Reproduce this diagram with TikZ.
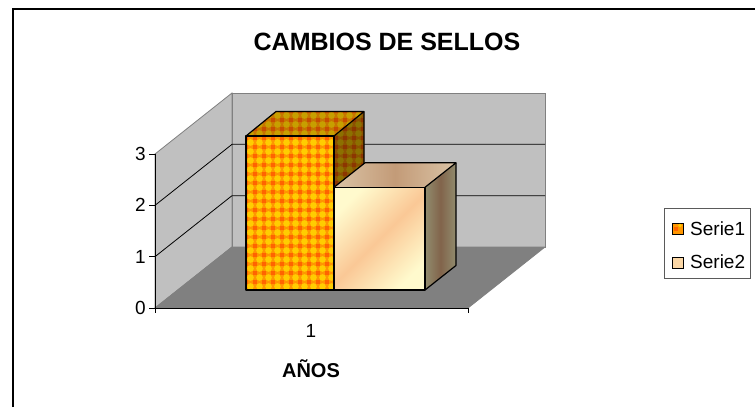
\documentclass[tikz,border=0pt]{standalone}
\usepackage{fontspec}
\setmainfont{Liberation Sans}
\definecolor{wallgray}{RGB}{192,192,192}
\definecolor{floorgray}{RGB}{128,128,128}
\definecolor{patorange}{RGB}{255,150,0}
\definecolor{patyellow}{RGB}{255,205,0}
\definecolor{patred}{RGB}{255,100,0}
\definecolor{cream}{RGB}{255,250,205}
\definecolor{peach}{RGB}{250,200,150}
\definecolor{tanlight}{RGB}{218,195,165}
\definecolor{tandark}{RGB}{195,155,120}
\definecolor{sidegray}{RGB}{145,140,110}
\definecolor{sidebrown}{RGB}{130,100,75}

\begin{document}
\begin{tikzpicture}[x=1pt,y=-1pt,
  wall/.style={fill=wallgray,draw=floorgray,line width=0.8pt},
  grid/.style={draw=black,line width=0.8pt},
  barline/.style={draw=black,line width=1.2pt,line join=round},
  ticklab/.style={font=\fontsize{19}{22}\selectfont,inner sep=0pt},
  boldlab/.style={font=\fontsize{20}{24}\selectfont\bfseries,inner sep=0pt}]
\useasboundingbox (0,0) rectangle (755,407);
\fill[white] (0,0) rectangle (755,407);
\draw[line width=1.5pt] (13,407) -- (13,9) -- (755,9);

\node[font=\fontsize{25}{30}\selectfont\bfseries,inner sep=0pt] (title) at (387,42) {CAMBIOS DE SELLOS};

\filldraw[wall] (155,308) -- (155,154) -- (232,93) -- (232,247) -- cycle;
\filldraw[wall] (232,247) -- (232,93) -- (545,93) -- (545,247) -- cycle;
\filldraw[fill=floorgray,draw=floorgray,line width=0.8pt] (155,308) -- (468,308) -- (545,247) -- (232,247) -- cycle;
\foreach \v in {1,2}
  \draw[grid] (155,{308-51.33*\v}) -- (232,{247-51.33*\v}) -- (545,{247-51.33*\v});

\draw[grid] (155,154) -- (155,313);
\draw[grid] (155,308) -- (468,308) -- (468,313);
\foreach \v in {0,...,3} {
  \draw[grid] (149,{308-51.33*\v}) -- (155,{308-51.33*\v});
  \node[ticklab,anchor=east] (yl\v) at (146,{308-51.33*\v}) {\v};
}
\node[ticklab] (xl1) at (311,331) {1};
\node[boldlab] (xname) at (311,369) {AÑOS};

\begin{scope}
\clip (246,290) -- (334,290) -- (364,265.5) -- (364,111.5) -- (276,111.5) -- (246,136) -- cycle;
\fill[patorange] (240,105) rectangle (370,295);
\foreach \i in {0,...,14} \foreach \j in {0,...,20} {
  \fill[patyellow] ({246+9*\i+4.5},{111+9*\j+4.5}) circle (3.3);
  \fill[patred] ({246+9*\i-1.7},{111+9*\j-1.7}) rectangle ++(3.4,3.4);
}
\end{scope}
\fill[black,opacity=0.22] (246,136) -- (334,136) -- (364,111.5) -- (276,111.5) -- cycle;
\fill[black,opacity=0.45] (334,136) -- (364,111.5) -- (364,265.5) -- (334,290) -- cycle;
\draw[barline] (246,290) rectangle (334,136);
\draw[barline] (246,136) -- (276,111.5) -- (364,111.5) -- (334,136);
\draw[barline] (364,111.5) -- (364,265.5) -- (334,290);

\shade[top color=cream,bottom color=cream,middle color=peach,shading angle=45] (334,290) rectangle (425,187.3);
\shade[left color=tanlight,right color=tanlight,middle color=tandark] (334,187.3) -- (425,187.3) -- (456,162.8) -- (365,162.8) -- cycle;
\shade[left color=sidegray,right color=sidegray,middle color=sidebrown] (425,290) -- (425,187.3) -- (456,162.8) -- (456,265.5) -- cycle;
\draw[barline] (334,290) rectangle (425,187.3);
\draw[barline] (334,187.3) -- (365,162.8) -- (456,162.8) -- (425,187.3);
\draw[barline] (456,162.8) -- (456,265.5) -- (425,290);

\draw[draw=floorgray!70!black,line width=1pt] (664,208) rectangle (750,278);
\filldraw[fill=patorange,draw=black,line width=1pt] (672,223) rectangle (683,234);
\fill[patred] (674,227) rectangle (678,231);
\fill[patyellow] (680,225.5) circle (1.8);
\filldraw[fill=peach!70!cream,draw=black,line width=1pt] (672,257) rectangle (683,268);
\node[ticklab,anchor=west] (ser1) at (690,228.5) {Serie1};
\node[ticklab,anchor=west] (ser2) at (690,262) {Serie2};
\end{tikzpicture}
\end{document}
